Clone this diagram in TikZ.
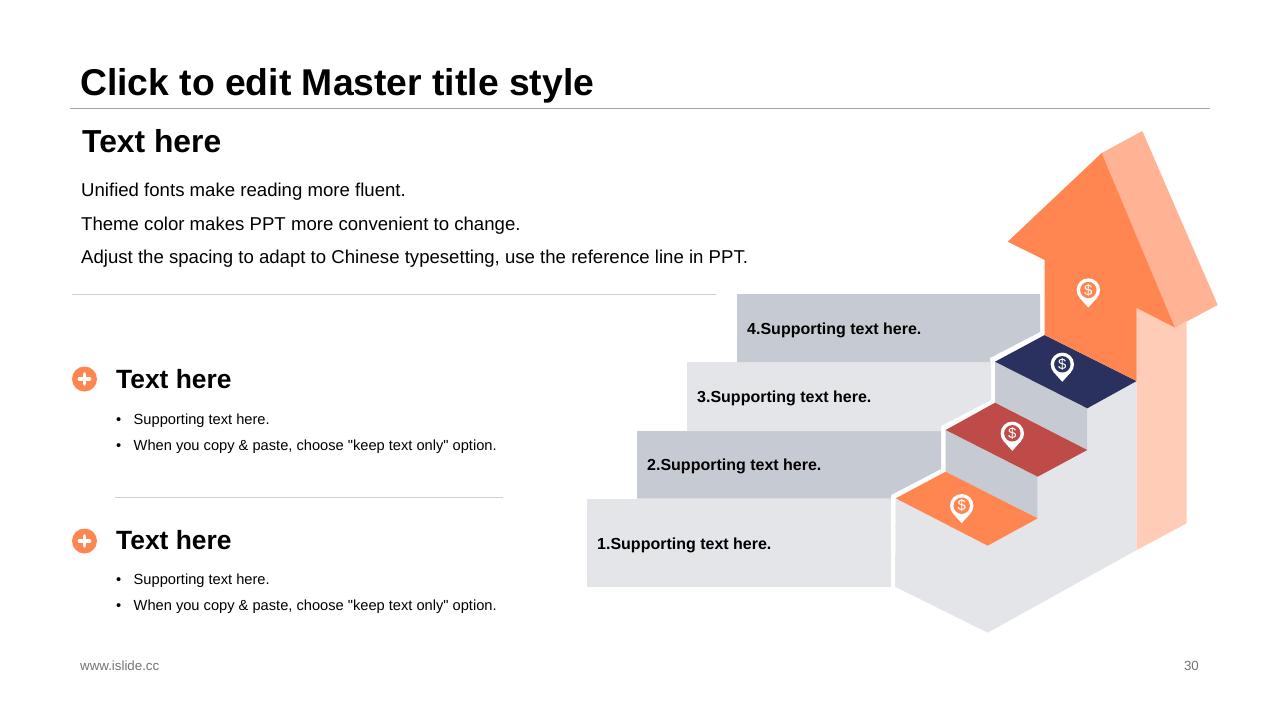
\documentclass[tikz,border=0pt]{standalone}
\usepackage{fontspec}
\setmainfont{Liberation Sans}
\newfontfamily\plainfont{Liberation Sans}
\usepackage{xcolor}
\usepackage{tikz}
\usetikzlibrary{positioning,calc}
\definecolor{slideorange}{HTML}{FF8551}
\definecolor{slidepeach}{HTML}{FFB294}
\definecolor{slidecream}{HTML}{FFCDB7}
\definecolor{slidenavy}{HTML}{2B315F}
\definecolor{slidered}{HTML}{BE4B48}
\definecolor{slidegray}{HTML}{C6CBD3}
\definecolor{slidelight}{HTML}{E3E5E9}
\definecolor{slideline}{HTML}{D0D0D0}

\begin{document}
\begin{tikzpicture}[
    x=1pt,y=-1pt,
    txt/.style    = {anchor=base west,inner sep=0pt,text=black},
    ttl/.style    = {txt,font=\fontsize{37.3}{40}\selectfont\bfseries},
    head/.style   = {txt,font=\fontsize{31.8}{36}\selectfont\bfseries},
    subhead/.style= {txt,font=\fontsize{26.4}{32}\selectfont\bfseries},
    body/.style   = {txt,font=\fontsize{18.6}{22}\selectfont},
    small/.style  = {txt,font=\fontsize{14.65}{17}\plainfont\selectfont},
    lab/.style    = {txt,font=\fontsize{16}{18}\selectfont\bfseries},
    foot/.style   = {txt,font=\fontsize{13.3}{15}\selectfont,text=black!55},
    rule/.style   = {slideline,line width=0.8pt},
    pics/moneypin/.style = {code={
      \fill[white] (0,0) circle (11.7);
      \fill[white] (-8.7,7.8) -- (0,17.5) -- (8.7,7.8) -- cycle;
      \fill[#1] (0,0) circle (8.2);
      \node[inner sep=0pt,text=white,font=\fontsize{15}{15}\selectfont] at (0,0) {\$};
    }},
    pics/plusicon/.style = {code={
      \fill[slideorange] (0,0) circle (12.5);
      \draw[white,line width=3.8pt,line cap=round] (-5,0) -- (5,0);
      \draw[white,line width=3.8pt,line cap=round] (0,-5) -- (0,5);
    }},
  ]
  \useasboundingbox (0,0) rectangle (1280,720);

  \node[ttl] (title) at (80,95) {Click to edit Master title style};
  \draw[black!35,line width=0.8pt] (70,108.5) -- (1210,108.5);

  \node[head] (lead) at (82,152.5) {Text here};
  \node[body] (lineA) at (81,196.5) {Unified fonts make reading more fluent.};
  \node[body] (lineB) at (81,230) {Theme color makes PPT more convenient to change.};
  \node[body] (lineC) at (81,263.5) {Adjust the spacing to adapt to Chinese typesetting, use the reference line in PPT.};
  \draw[rule] (72,294.5) -- (716,294.5);

  % Left column
  \pic at (84.5,379) {plusicon};
  \node[subhead] (headA) at (116,388.5) {Text here};
  \node[small] (dotA) at (116,424) {•};
  \node[small] (supA) at (133.5,424) {Supporting text here.};
  \node[small] (dotB) at (116,450) {•};
  \node[small] (supB) at (133.5,450) {When you copy \& paste, choose "keep text only" option.};
  \draw[rule] (115,497.5) -- (503,497.5);

  \pic at (84.5,541) {plusicon};
  \node[subhead] (headB) at (116,549.5) {Text here};
  \node[small] (dotC) at (116,584.5) {•};
  \node[small] (supC) at (133.5,584.5) {Supporting text here.};
  \node[small] (dotD) at (116,610.5) {•};
  \node[small] (supD) at (133.5,610.5) {When you copy \& paste, choose "keep text only" option.};

  % Bars
  \fill[slidelight] (587,498.5) -- (891,498.5) -- (891,586.5) -- (587,586.5) -- cycle;
  \fill[slidegray] (637,431) -- (941,431) -- (941,469) -- (891,495) -- (891,498.5) -- (637,498.5) -- cycle;
  \fill[slidelight] (687,362) -- (991,362) -- (991,400) -- (941,426) -- (941,431) -- (687,431) -- cycle;
  \fill[slidegray] (737,294) -- (1040,294) -- (1040,332) -- (990,358) -- (990,362) -- (737,362) -- cycle;
  \node[lab] (barA) at (597,549) {1.Supporting text here.};
  \node[lab] (barB) at (647,470.5) {2.Supporting text here.};
  \node[lab] (barC) at (697,402) {3.Supporting text here.};
  \node[lab] (barD) at (747,334) {4.Supporting text here.};

  % Stairs
  \fill[slidelight] (895.7,498.3) -- (987.7,545.7) -- (1037.7,518.3) -- (1037.7,476.7) -- (1087.3,450)
    -- (1087.3,408.3) -- (1136.7,381) -- (1136.7,550) -- (987.7,632.7) -- (895,586.7) -- cycle;
  \fill[slidegray] (945.7,430) -- (1037.7,476.7) -- (1037.7,518.3) -- (945.7,471.7) -- cycle;
  \fill[slidegray] (995,361.7) -- (1087.3,408.3) -- (1087.3,450) -- (995,402.7) -- cycle;
  \fill[slideorange] (945.7,471.7) -- (1037.7,518.3) -- (987.7,545.7) -- (895.7,498.3) -- cycle;
  \fill[slidered] (995,402.7) -- (1087.3,450) -- (1037.7,476.7) -- (945.7,430) -- cycle;
  \fill[slidenavy] (1044.7,335) -- (1136.7,381) -- (1087.3,408.3) -- (995,361.7) -- cycle;

  % Arrow
  \fill[slidecream] (1136.7,308) -- (1175,327.7) -- (1186.7,322) -- (1186.7,523.3) -- (1136.7,550) -- cycle;
  \fill[slidepeach] (1101.7,153) -- (1142.3,131) -- (1217.7,305) -- (1175,327.7) -- cycle;
  \fill[slideorange] (1101.7,153) -- (1007.7,241.7) -- (1044.7,260) -- (1044.7,335) -- (1136.7,381)
    -- (1136.7,308) -- (1175,327.7) -- cycle;

  \pic at (1088.3,290) {moneypin=slideorange};
  \pic at (1062.3,364.3) {moneypin=slidenavy};
  \pic at (1012.3,433.3) {moneypin=slidered};
  \pic at (961.7,505.7) {moneypin=slideorange};

  \node[foot] (site) at (80,670.5) {www.islide.cc};
  \node[foot,anchor=base east] (page) at (1199,670.5) {30};
\end{tikzpicture}
\end{document}
